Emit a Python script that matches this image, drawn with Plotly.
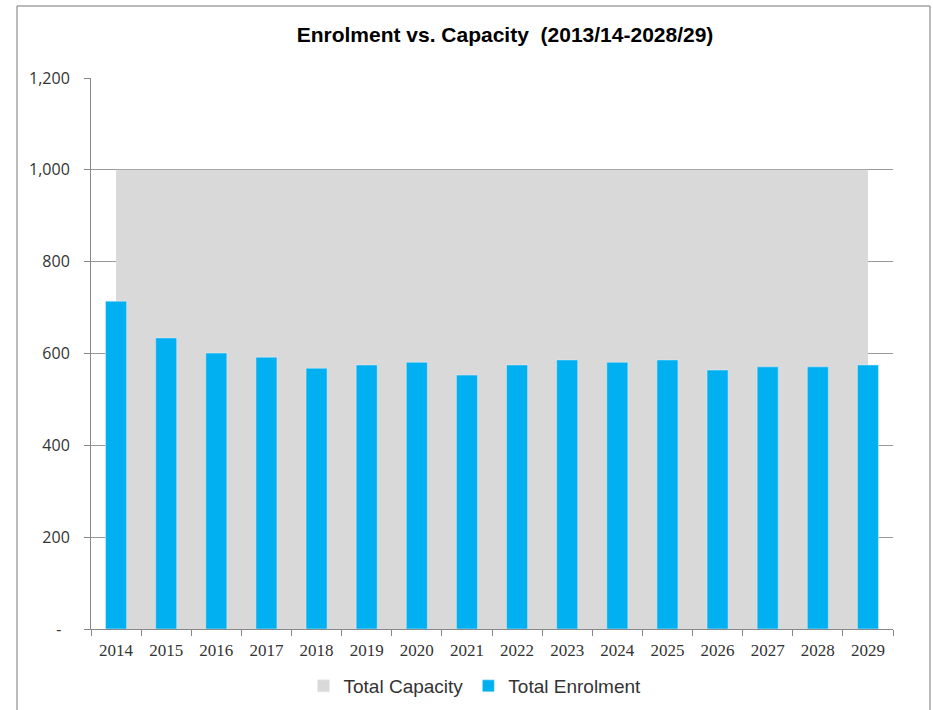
import plotly.graph_objects as go

years = [str(y) for y in range(2014, 2030)]
capacity = [1000] * 16
enrolment = [714, 634, 601, 592, 568, 575, 581, 553, 575, 586, 581, 586, 564, 571, 571, 575]
ytick_vals = [0, 200, 400, 600, 800, 1000, 1200]
ytick_text = ["-\u00a0\u00a0", "200", "400", "600", "800", "1,000", "1,200"]

GRAY = "#d9d9d9"
BLUE = "#00b0f0"

L, R, T, B = 91, 40, 78, 81
W, H = 933, 710
PW, PH = W - L - R, H - T - B

fig = go.Figure()
# legend entry for capacity (square swatch)
fig.add_trace(go.Bar(x=years, y=[None] * len(years), name="Total Capacity",
                     marker_color=GRAY, showlegend=True, hoverinfo="skip"))
# capacity area
fig.add_trace(go.Scatter(
    x=years, y=capacity, name="Total Capacity", mode="lines", showlegend=False,
    line=dict(width=0, color=GRAY), fill="tozeroy", fillcolor=GRAY,
))
# enrolment bars on overlay axes so they draw above the area
fig.add_trace(go.Bar(
    x=years, y=enrolment, name="Total Enrolment", marker_color=BLUE,
    width=0.42, xaxis="x2", yaxis="y2",
))

fig.update_layout(
    width=W, height=H,
    paper_bgcolor="white", plot_bgcolor="white",
    margin=dict(l=L, r=R, t=T, b=B, autoexpand=False),
    barmode="overlay",
    title=dict(text="<b>Enrolment vs. Capacity  (2013/14-2028/29)</b>",
               x=505 / W, xanchor="center", y=1 - 35 / H, yanchor="middle",
               font=dict(family="Liberation Sans, Arial", size=21, color="#000")),
    showlegend=True,
    legend=dict(orientation="h", x=(475 - L) / PW, xanchor="center",
                y=-(686 - (H - B)) / PH, yanchor="middle",
                font=dict(family="Liberation Sans, Arial", size=19, color="#333"),
                itemwidth=30, traceorder="normal"),
    xaxis=dict(type="category", tickson="boundaries", ticks="outside", ticklen=6,
               tickcolor="#888", showline=True, linecolor="#888", linewidth=1,
               showgrid=False, ticklabelstandoff=6,
               tickfont=dict(family="Liberation Serif, Times New Roman", size=17, color="#333")),
    yaxis=dict(range=[0, 1200], tickvals=ytick_vals, ticktext=ytick_text,
               ticks="outside", ticklen=6, tickcolor="#888",
               showline=True, linecolor="#888", linewidth=1,
               showgrid=True, gridcolor="#999", gridwidth=1, zeroline=False,
               ticklabelstandoff=11,
               tickfont=dict(family="Open Sans, Liberation Sans", size=16, color="#333")),
    xaxis2=dict(type="category", overlaying="x", matches="x", visible=False),
    yaxis2=dict(overlaying="y", matches="y", visible=False, range=[0, 1200]),
    shapes=[dict(type="rect", xref="paper", yref="paper",
                 x0=(17 - L) / PW, x1=(930 - L) / PW,
                 y0=((H - B) - 720) / PH, y1=((H - B) - 6) / PH,
                 line=dict(color="#777", width=1), fillcolor="rgba(0,0,0,0)", layer="below")],
)

fig.write_html("out.html", config={"displayModeBar": False},
               post_script="document.body.style.margin='0';")
